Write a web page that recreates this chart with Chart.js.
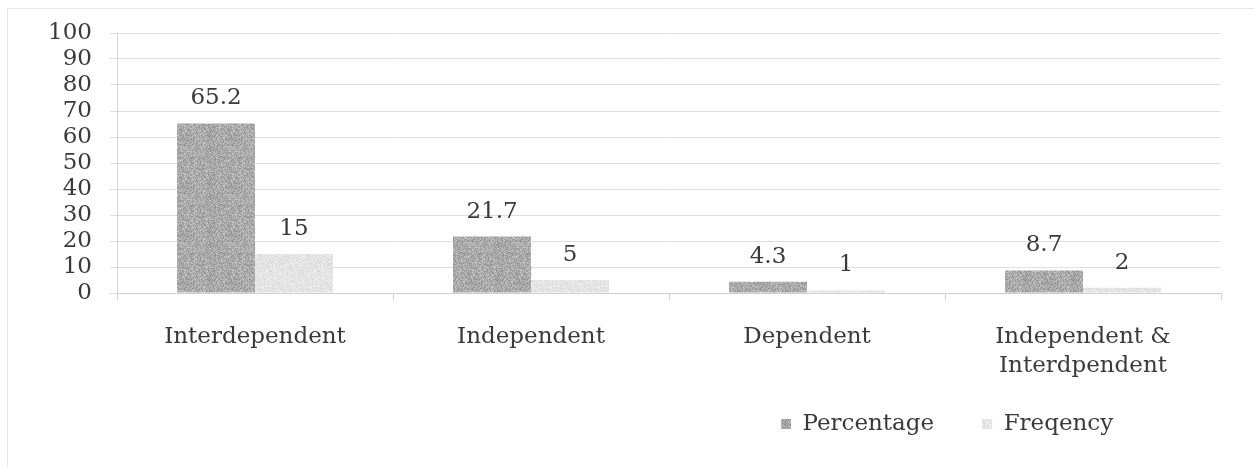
<!DOCTYPE html>
<html>
<head>
<meta charset="utf-8">
<script src="https://cdn.jsdelivr.net/npm/chart.js@4/dist/chart.umd.min.js"></script>
<style>
  html, body { margin: 0; padding: 0; background: #ffffff; }
  #wrap { position: relative; width: 1254px; height: 467px; overflow: hidden; }
  #frame { position: absolute; left: 7px; top: 8px; width: 1260px; height: 470px; border: 1px solid #e4e4e4; box-sizing: border-box; pointer-events: none; }
  canvas { position: absolute; left: 0; top: 0; }
</style>
</head>
<body>
<div id="wrap">
  <canvas id="chart" width="1254" height="467"></canvas>
  <div id="frame"></div>
</div>
<script>
const categories = ['Interdependent', 'Independent', 'Dependent', ['Independent &', 'Interdpendent']];
const percentage = [65.2, 21.7, 4.3, 8.7];
const frequency = [15, 5, 1, 2];
const yTicks = [0, 10, 20, 30, 40, 50, 60, 70, 80, 90, 100];

const FONT = '"DejaVu Serif", "Liberation Serif", serif';
const TEXT = '#3a3a3a';
const SIZE = 23;

// Grainy fill, like a photocopied print
function grain(base, spread) {
  const c = document.createElement('canvas');
  c.width = 48; c.height = 48;
  const g = c.getContext('2d');
  const img = g.createImageData(48, 48);
  let s = 12345;
  for (let i = 0; i < 48 * 48; i++) {
    s = (s * 1103515245 + 12345) & 0x7fffffff;
    const v = Math.max(0, Math.min(255, base + ((s >> 8) % (2 * spread + 1)) - spread));
    img.data[i * 4] = v; img.data[i * 4 + 1] = v; img.data[i * 4 + 2] = v; img.data[i * 4 + 3] = 255;
  }
  g.putImageData(img, 0, 0);
  return g.createPattern(c, 'repeat');
}
const ctx = document.getElementById('chart').getContext('2d');
const darkFill = grain(170, 28);
const lightFill = grain(228, 12);

const valueLabels = {
  id: 'valueLabels',
  afterDatasetsDraw(chart) {
    const c = chart.ctx;
    c.save();
    c.font = SIZE + 'px ' + FONT;
    c.fillStyle = TEXT;
    c.textAlign = 'center';
    c.textBaseline = 'middle';
    chart.data.datasets.forEach((ds, i) => {
      chart.getDatasetMeta(i).data.forEach((bar, j) => {
        c.fillText(String(ds.data[j]), bar.x, bar.y - 25);
      });
    });
    c.restore();
  }
};

// Legend row sits under the right half of the plot
const legendPlace = {
  id: 'legendPlace',
  afterLayout(chart) {
    const lg = chart.legend;
    const pad = lg.options.labels.padding;
    const rowStart = (lg.left + pad + lg.right - lg.lineWidths[0]) / 2;
    const dx = 781 - rowStart;
    lg.left += dx; lg.right += dx;
    const ih = lg._itemHeight || SIZE;
    const dy = 424 - (lg.top + pad + ih / 2);
    lg.top += dy; lg.bottom += dy;
  }
};

new Chart(ctx, {
  type: 'bar',
  data: {
    labels: categories,
    datasets: [
      { label: 'Percentage', data: percentage, backgroundColor: darkFill, borderWidth: 0 },
      { label: 'Freqency', data: frequency, backgroundColor: lightFill, borderWidth: 0 }
    ]
  },
  options: {
    responsive: false,
    animation: false,
    events: [],
    layout: { padding: { top: 33, left: 0, right: 33, bottom: 0 } },
    datasets: { bar: { categoryPercentage: 0.565, barPercentage: 1.0 } },
    scales: {
      x: {
        offset: true,
        afterFit(s) { s.height = 174 - s.chart.legend.height; },
        grid: { drawOnChartArea: false, drawTicks: true, tickLength: 7, offset: true, color: '#d0d0d0' },
        border: { color: '#cfcfcf' },
        ticks: { color: TEXT, padding: 22, font: { family: FONT, size: SIZE, lineHeight: 1.27 }, maxRotation: 0, autoSkip: false }
      },
      y: {
        min: 0, max: 100,
        afterFit(s) { s.width = 117; },
        afterBuildTicks(s) { s.ticks = yTicks.map(v => ({ value: v })); },
        grid: { color: '#dedede', tickLength: 7 },
        border: { color: '#d6d6d6' },
        ticks: { color: TEXT, padding: 18, autoSkip: false, font: { family: FONT, size: SIZE, lineHeight: 1.0 } }
      }
    },
    plugins: {
      legend: {
        position: 'bottom',
        align: 'center',
        labels: {
          color: TEXT,
          font: { family: FONT, size: SIZE },
          boxWidth: 10, boxHeight: 10,
          padding: 48
        }
      },
      tooltip: { enabled: false }
    }
  },
  plugins: [valueLabels, legendPlace]
});
</script>
</body>
</html>
